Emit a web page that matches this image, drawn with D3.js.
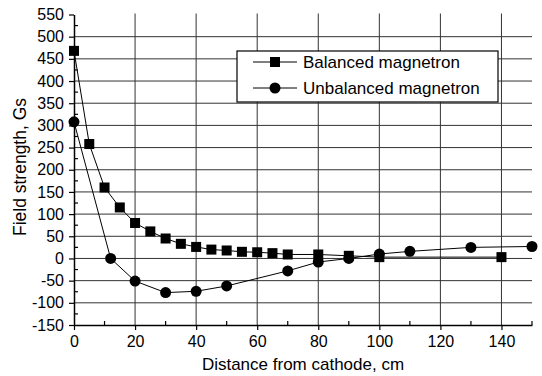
<!DOCTYPE html>
<html>
<head>
<meta charset="utf-8">
<script src="https://cdn.jsdelivr.net/npm/d3@7"></script>
<style>
  body { margin: 0; background: #fff; }
  svg { display: block; font-family: "Liberation Sans", Arial, sans-serif; }
</style>
</head>
<body>
<div id="chart"></div>
<script>
// readings
var balancedX = [0, 5, 10, 15, 20, 25, 30, 35, 40, 45, 50, 55, 60, 65, 70, 80, 90, 100, 140];
var balancedY = [468, 258, 160, 115, 80, 61, 45, 33, 26, 20, 18, 15, 14, 12, 9, 9, 6, 3, 3];
var unbalancedX = [0, 12, 20, 30, 40, 50, 70, 80, 90, 100, 110, 130, 150];
var unbalancedY = [308, 0, -51, -77, -74, -62, -28, -8, 0, 10, 16, 25, 27];
var xTicks = [0, 20, 40, 60, 80, 100, 120, 140];
var yTicks = [-150, -100, -50, 0, 50, 100, 150, 200, 250, 300, 350, 400, 450, 500, 550];
var seriesNames = ["Balanced magnetron", "Unbalanced magnetron"];

var outerWidth = 542, outerHeight = 376;
var margin = { left: 74, top: 14.5, right: 10, bottom: 51 };
var innerWidth = outerWidth - margin.left - margin.right;
var innerHeight = outerHeight - margin.top - margin.bottom;

var svg = d3.select("#chart").append("svg")
  .attr("width", outerWidth)
  .attr("height", outerHeight);

var g = svg.append("g")
  .attr("transform", "translate(" + margin.left + "," + margin.top + ")");

var scaleX = d3.scaleLinear().domain([0, 150]).range([0, innerWidth]);
var scaleY = d3.scaleLinear().domain([-150, 550]).range([innerHeight, 0]);

// grid
g.append("g").selectAll("line.gx")
  .data(xTicks.filter(d => d > 0))
  .enter().append("line")
  .attr("x1", d => scaleX(d)).attr("x2", d => scaleX(d))
  .attr("y1", -1).attr("y2", innerHeight)
  .attr("stroke", "#333").attr("stroke-width", 1);

g.append("g").selectAll("line.gy")
  .data(yTicks.filter(d => d > -150 && d < 550))
  .enter().append("line")
  .attr("x1", 0).attr("x2", innerWidth)
  .attr("y1", d => scaleY(d)).attr("y2", d => scaleY(d))
  .attr("stroke", "#333").attr("stroke-width", 1);

// minor ticks (inside)
var xMinor = d3.range(10, 151, 20);
var yMinor = d3.range(-125, 551, 50);

var fmt = d => String(d);
var xAxis = d3.axisBottom(scaleX).tickValues(xTicks).tickFormat(fmt).tickSizeInner(5).tickSizeOuter(0).tickPadding(6);
var yAxis = d3.axisLeft(scaleY).tickValues(yTicks).tickFormat(fmt).tickSizeInner(5).tickSizeOuter(0).tickPadding(5);

var xAxisG = g.append("g").attr("transform", "translate(0," + innerHeight + ")").call(xAxis);
var yAxisG = g.append("g").call(yAxis);

[xAxisG, yAxisG].forEach(function(a) {
  a.select(".domain").attr("stroke", "#000").attr("stroke-width", 1.5);
  a.selectAll(".tick line").attr("stroke", "#000").attr("stroke-width", 1.2);
  a.selectAll(".tick text").attr("fill", "#000").attr("font-size", "16px")
    .style("font-family", '"Liberation Sans", Arial, sans-serif');
});

xAxisG.selectAll("line.minor").data(xMinor).enter().append("line")
  .attr("x1", d => scaleX(d)).attr("x2", d => scaleX(d))
  .attr("y1", 0).attr("y2", -4)
  .attr("stroke", "#000").attr("stroke-width", 1.2);
yAxisG.selectAll("line.minor").data(yMinor).enter().append("line")
  .attr("y1", d => scaleY(d)).attr("y2", d => scaleY(d))
  .attr("x1", 0).attr("x2", 4)
  .attr("stroke", "#000").attr("stroke-width", 1.2);

// axis labels
svg.append("text")
  .attr("x", margin.left + innerWidth / 2)
  .attr("y", 370)
  .attr("text-anchor", "middle")
  .attr("font-size", "17px")
  .text("Distance from cathode, cm");

svg.append("text")
  .attr("transform", "translate(26," + 167 + ") rotate(-90)")
  .attr("text-anchor", "middle")
  .attr("font-size", "17.5px")
  .text("Field strength, Gs");

// series
var balanced = balancedX.map((x, i) => [x, balancedY[i]]);
var unbalanced = unbalancedX.map((x, i) => [x, unbalancedY[i]]);
var line = d3.line().x(d => scaleX(d[0])).y(d => scaleY(d[1]));

g.append("path").datum(balanced)
  .attr("d", line).attr("fill", "none").attr("stroke", "#000").attr("stroke-width", 1);
g.append("path").datum(unbalanced)
  .attr("d", line).attr("fill", "none").attr("stroke", "#000").attr("stroke-width", 1);

var sq = 10, rad = 5.5;
g.selectAll("rect.bal").data(balanced).enter().append("rect")
  .attr("x", d => scaleX(d[0]) - sq / 2)
  .attr("y", d => scaleY(d[1]) - sq / 2)
  .attr("width", sq).attr("height", sq)
  .attr("fill", "#000");

g.selectAll("circle.unb").data(unbalanced).enter().append("circle")
  .attr("cx", d => scaleX(d[0]))
  .attr("cy", d => scaleY(d[1]))
  .attr("r", rad)
  .attr("fill", "#000");

// legend
var legend = svg.append("g").attr("transform", "translate(237,51)");
legend.append("rect")
  .attr("width", 261).attr("height", 51)
  .attr("fill", "#fff").attr("stroke", "#000").attr("stroke-width", 1.2);

seriesNames.forEach(function(name, i) {
  var row = legend.append("g").attr("transform", "translate(0," + (11 + i * 26) + ")");
  row.append("line").attr("x1", 16).attr("x2", 60).attr("y1", 0).attr("y2", 0)
    .attr("stroke", "#000").attr("stroke-width", 1);
  if (i === 0) {
    row.append("rect").attr("x", 38 - sq / 2).attr("y", -sq / 2)
      .attr("width", sq).attr("height", sq).attr("fill", "#000");
  } else {
    row.append("circle").attr("cx", 38).attr("cy", 0).attr("r", rad).attr("fill", "#000");
  }
  row.append("text").attr("x", 66).attr("y", 6)
    .attr("font-size", "17px").text(name);
});
</script>
</body>
</html>
